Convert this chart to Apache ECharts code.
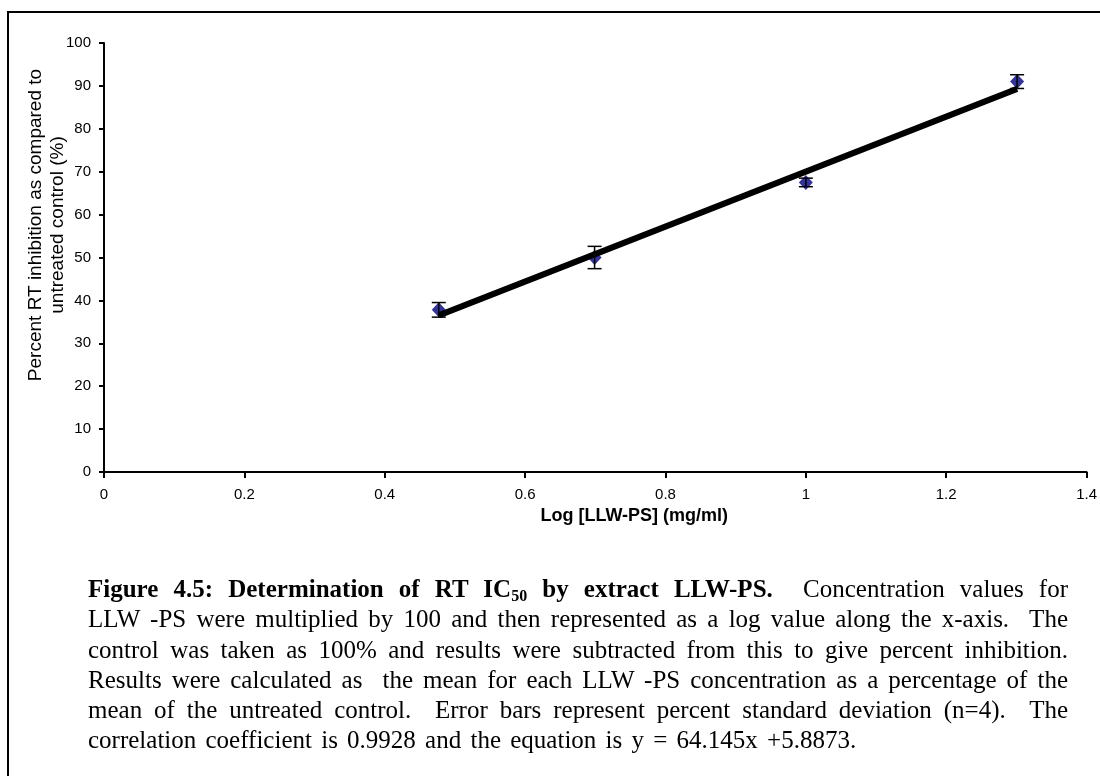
<!DOCTYPE html>
<html>
<head>
<meta charset="utf-8">
<script src="https://cdn.jsdelivr.net/npm/echarts@6/dist/echarts.min.js"></script>
<style>
  html, body { margin: 0; padding: 0; background: #fff; }
  #wrap { position: relative; width: 1100px; height: 776px; overflow: hidden; }
  #chart { position: absolute; left: 0; top: 0; width: 1100px; height: 776px; }
  #frame { position: absolute; left: 7px; top: 11px; width: 1120px; height: 800px; border: 2px solid #000; box-sizing: border-box; pointer-events: none; }
  #caption { position: absolute; left: 88px; top: 574px; width: 980px; font-family: "Liberation Serif", "Times New Roman", serif; font-size: 25px; line-height: 30.3px; color: #000; }
  #caption .ln { text-align: justify; text-align-last: justify; white-space: nowrap; }
  #caption .ln.last { text-align-last: left; word-spacing: 3px; }
  #caption sub { font-size: 16px; vertical-align: -4px; line-height: 0; }
</style>
</head>
<body>
<div id="wrap">
  <div id="chart"></div>
  <div id="frame"></div>
  <div id="caption"></div>
</div>
<script>
// ---- data ----
const xValues = [0.477, 0.699, 1.0, 1.301];           // log concentration
const yMeans  = [37.8, 50.0, 67.5, 91.0];              // percent RT inhibition
const yErrors = [1.7, 2.6, 1.0, 1.6];                  // percent SD
const trendX  = [0.477, 1.301];                        // trend line end points
const trendY  = [36.5, 89.3];
const xTickLabels = ['0', '0.2', '0.4', '0.6', '0.8', '1', '1.2', '1.4'];
const yTickLabels = ['0', '10', '20', '30', '40', '50', '60', '70', '80', '90', '100'];
const xAxisTitle = 'Log [LLW-PS] (mg/ml)';
const yAxisTitle = 'Percent RT inhibition as compared to\nuntreated control (%)';
const captionLines = [
  '<b>Figure 4.5: Determination of RT IC<sub>50</sub> by extract LLW-PS.</b>&nbsp; Concentration values for',
  'LLW -PS were multiplied by 100 and then represented as a log value along the x-axis.&nbsp; The',
  'control was taken as 100% and results were subtracted from this to give percent inhibition.',
  'Results were calculated as &nbsp;the mean for each LLW -PS concentration as a percentage of the',
  'mean of the untreated control.&nbsp; Error bars represent percent standard deviation (n=4).&nbsp; The',
  'correlation coefficient is 0.9928 and the equation is y = 64.145x +5.8873.'
];

// ---- caption ----
document.getElementById('caption').innerHTML = captionLines
  .map((t, i) => '<div class="ln' + (i === captionLines.length - 1 ? ' last' : '') + '">' + t + '</div>')
  .join('');

// ---- chart ----
const xMin = 0, xMax = 1.4, xStep = 0.2;
const yMin = 0, yMax = 100, yStep = 10;
const fontFam = '"Liberation Sans", Arial, sans-serif';

const points = xValues.map((x, i) => [x, yMeans[i]]);
const errData = xValues.map((x, i) => [x, yMeans[i] - yErrors[i], yMeans[i] + yErrors[i]]);
const trendData = trendX.map((x, i) => [x, trendY[i]]);

const chart = echarts.init(document.getElementById('chart'), null, { renderer: 'canvas' });
chart.setOption({
  animation: false,
  backgroundColor: '#ffffff',
  grid: { left: 104, right: 13, top: 43, bottom: 304, containLabel: false },
  graphic: [{
    type: 'text', x: 47, y: 225, rotation: Math.PI / 2, silent: true,
    style: {
      text: yAxisTitle, fontFamily: fontFam, fontSize: 19, lineHeight: 22,
      fill: '#000', align: 'center', verticalAlign: 'middle'
    }
  }],
  xAxis: {
    type: 'value', min: xMin, max: xMax, interval: xStep,
    name: xAxisTitle, nameLocation: 'middle', nameGap: 32,
    nameTextStyle: { fontFamily: fontFam, fontSize: 18, fontWeight: 'bold', color: '#000', padding: [0, 0, 0, 78] },
    axisLine: { show: true, onZero: false, lineStyle: { color: '#000', width: 2 } },
    axisTick: { show: true, length: 6, lineStyle: { color: '#000', width: 2 } },
    axisLabel: {
      margin: 15, fontFamily: fontFam, fontSize: 15, color: '#000',
      formatter: v => xTickLabels[Math.round((v - xMin) / xStep)]
    },
    splitLine: { show: false }
  },
  yAxis: {
    type: 'value', min: yMin, max: yMax, interval: yStep,
    axisLine: { show: true, lineStyle: { color: '#000', width: 2 } },
    axisTick: { show: true, length: 5, lineStyle: { color: '#000', width: 2 } },
    axisLabel: {
      margin: 13, fontFamily: fontFam, fontSize: 15, color: '#000',
      formatter: v => yTickLabels[Math.round((v - yMin) / yStep)]
    },
    splitLine: { show: false }
  },
  series: [
    {
      type: 'scatter', data: points, symbol: 'diamond', symbolSize: [14, 15],
      itemStyle: { color: '#000080' }, z: 2
    },
    {
      type: 'custom', data: errData, z: 3,
      encode: { x: 0, y: [1, 2] },
      renderItem: function (params, api) {
        const x = api.value(0);
        const lo = api.coord([x, api.value(1)]);
        const hi = api.coord([x, api.value(2)]);
        const hw = 7;
        const st = { stroke: '#000', lineWidth: 1.5 };
        return {
          type: 'group',
          children: [
            { type: 'line', shape: { x1: hi[0], y1: hi[1], x2: lo[0], y2: lo[1] }, style: st },
            { type: 'line', shape: { x1: hi[0] - hw, y1: hi[1], x2: hi[0] + hw, y2: hi[1] }, style: st },
            { type: 'line', shape: { x1: lo[0] - hw, y1: lo[1], x2: lo[0] + hw, y2: lo[1] }, style: st }
          ]
        };
      }
    },
    {
      type: 'line', data: trendData, symbol: 'none', z: 4,
      lineStyle: { color: '#000', width: 6, cap: 'butt' }
    }
  ]
});
</script>
</body>
</html>
